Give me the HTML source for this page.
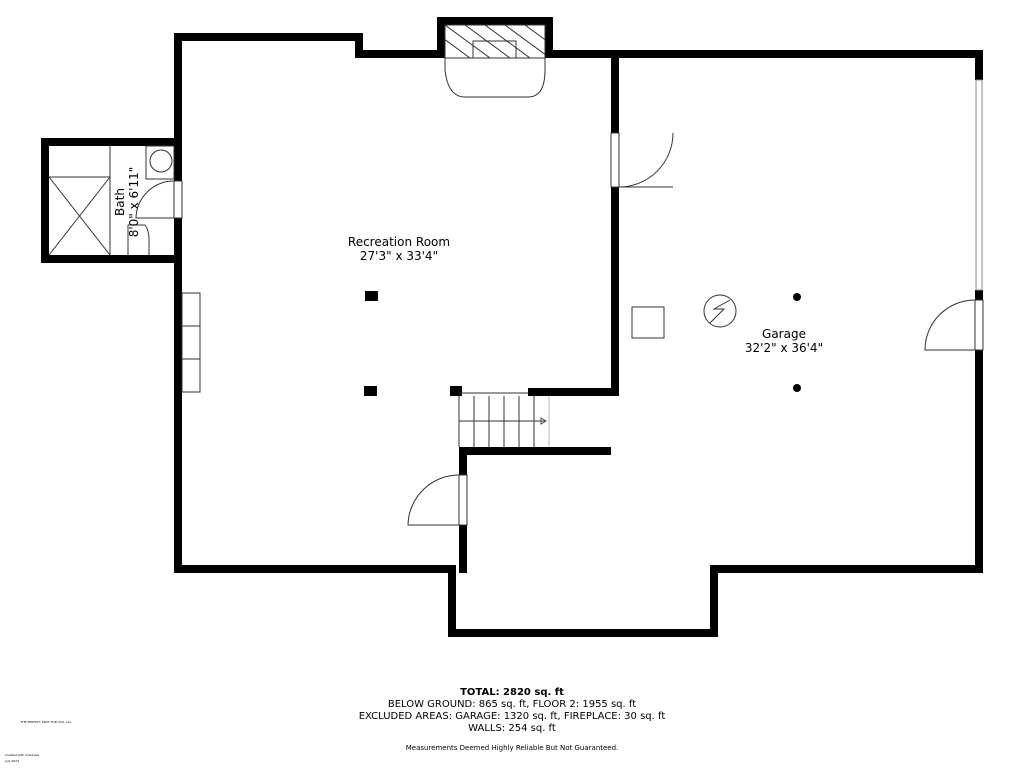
<!DOCTYPE html>
<html><head><meta charset="utf-8"><style>
html,body{margin:0;padding:0;background:#fff;width:1024px;height:768px;overflow:hidden}
svg{display:block}
text{font-family:"DejaVu Sans","Liberation Sans",sans-serif;fill:#000}
</style></head><body>
<svg width="1024" height="768" viewBox="0 0 1024 768" xmlns="http://www.w3.org/2000/svg">
<defs><clipPath id="fp"><rect x="445" y="25" width="100" height="33"/></clipPath></defs>
<g fill="#000">
<rect x="174" y="33" width="8" height="148"/>
<rect x="174" y="218" width="8" height="355"/>
<rect x="174" y="33" width="189" height="8"/>
<rect x="355" y="33" width="8" height="25"/>
<rect x="355" y="50" width="90" height="8"/>
<rect x="437" y="17" width="115" height="8"/>
<rect x="437" y="17" width="8" height="41"/>
<rect x="545" y="17" width="8" height="41"/>
<rect x="545" y="50" width="438" height="8"/>
<rect x="975" y="50" width="8" height="30"/>
<rect x="975" y="290" width="8" height="10"/>
<rect x="975" y="350" width="8" height="223"/>
<rect x="710" y="565" width="273" height="8"/>
<rect x="710" y="565" width="8" height="72"/>
<rect x="448" y="629" width="270" height="8"/>
<rect x="448" y="565" width="8" height="72"/>
<rect x="174" y="565" width="282" height="8"/>
<rect x="611" y="50" width="8" height="83"/>
<rect x="611" y="187" width="8" height="209"/>
<rect x="528" y="388" width="91" height="8"/>
<rect x="450" y="386" width="12" height="10"/>
<rect x="459" y="447" width="152" height="8"/>
<rect x="459" y="447" width="8" height="28"/>
<rect x="459" y="525" width="8" height="48"/>
<rect x="41" y="138" width="8" height="125"/>
<rect x="41" y="138" width="137" height="8"/>
<rect x="41" y="255" width="137" height="8"/>
<rect x="365" y="291" width="13" height="10"/>
<rect x="364" y="386" width="13" height="10"/>
<circle cx="797" cy="297" r="4"/>
<circle cx="797" cy="388" r="4"/>
</g>
<g fill="none" stroke="#333" stroke-width="1">
<rect x="445" y="25" width="100" height="33"/>
<rect x="473" y="41" width="43" height="17"/>
<path d="M445 58 L445 70 Q448 97 465 97 L528 97 Q545 97 545 70 L545 58"/>
<g clip-path="url(#fp)"><path d="M425 25 L470 58 M445 25 L490 58 M465 25 L510 58 M485 25 L530 58 M505 25 L550 58 M525 25 L570 58"/></g>
<rect x="611" y="133" width="8" height="54"/>
<path d="M619 187 L673 187 M673 133 A54 54 0 0 1 619 187"/>
<rect x="975" y="300" width="8" height="50"/>
<path d="M975 350 L925 350 A50 50 0 0 1 975 300"/>
<rect x="459" y="475" width="8" height="50"/>
<path d="M459 525 L408 525 A51 51 0 0 1 459 475"/>
<rect x="174" y="181" width="8" height="37"/>
<path d="M174 218 L136 218 A38 38 0 0 1 174 181"/>
<rect x="976" y="80" width="6" height="210" stroke="#888"/>
<path d="M459 396 L459 447 M474 396 L474 447 M489 396 L489 447 M504 396 L504 447 M519 396 L519 447 M534 396 L534 447 M459 421 L545 421 M459 393 L528 393"/>
<path d="M549 396 L549 447" stroke="#bbb"/>
<path d="M541 418 L546 421 L541 424 Z" stroke="#555"/>
<rect x="182" y="293" width="18" height="99"/>
<path d="M182 326 L200 326 M182 359 L200 359"/>
<rect x="632" y="307" width="32" height="31"/>
<circle cx="720" cy="311" r="16"/>
<path d="M710 323 L724 309 L714 309 L730 300"/>
<path d="M49 177 L110 177 L110 255 M49 177 L110 255 M110 177 L49 255 M110 146 L110 177"/>
<rect x="146" y="146" width="28" height="33"/>
<circle cx="161" cy="161" r="11"/>
<path d="M128 225 L145 225 Q149 230 149 240 L149 255 M128 225 L128 255"/>
</g>
<text x="399" y="246" font-size="12" text-anchor="middle">Recreation Room</text>
<text x="399" y="260" font-size="12" text-anchor="middle">27'3" x 33'4"</text>
<text x="784" y="338" font-size="12" text-anchor="middle">Garage</text>
<text x="784" y="352" font-size="12" text-anchor="middle">32'2" x 36'4"</text>
<text transform="translate(124,202) rotate(-90)" font-size="12" text-anchor="middle">Bath</text>
<text transform="translate(138,202) rotate(-90)" font-size="12" text-anchor="middle">8'0" x 6'11"</text>
<text x="512" y="695" font-size="10" font-weight="bold" text-anchor="middle">TOTAL: 2820 sq. ft</text>
<text x="512" y="707" font-size="10" text-anchor="middle">BELOW GROUND: 865 sq. ft, FLOOR 2: 1955 sq. ft</text>
<text x="512" y="719" font-size="10" text-anchor="middle">EXCLUDED AREAS: GARAGE: 1320 sq. ft, FIREPLACE: 30 sq. ft</text>
<text x="512" y="731" font-size="10" text-anchor="middle">WALLS: 254 sq. ft</text>
<text x="512" y="750" font-size="7" text-anchor="middle">Measurements Deemed Highly Reliable But Not Guaranteed.</text>
<text x="46" y="723" font-size="3" text-anchor="middle">THE PERFECT SPOT FOR YOU, LLC</text>
<text x="5" y="756" font-size="3">Created with CubiCasa</text>
<text x="5" y="762" font-size="3">July 2024</text>
</svg>
</body></html>
